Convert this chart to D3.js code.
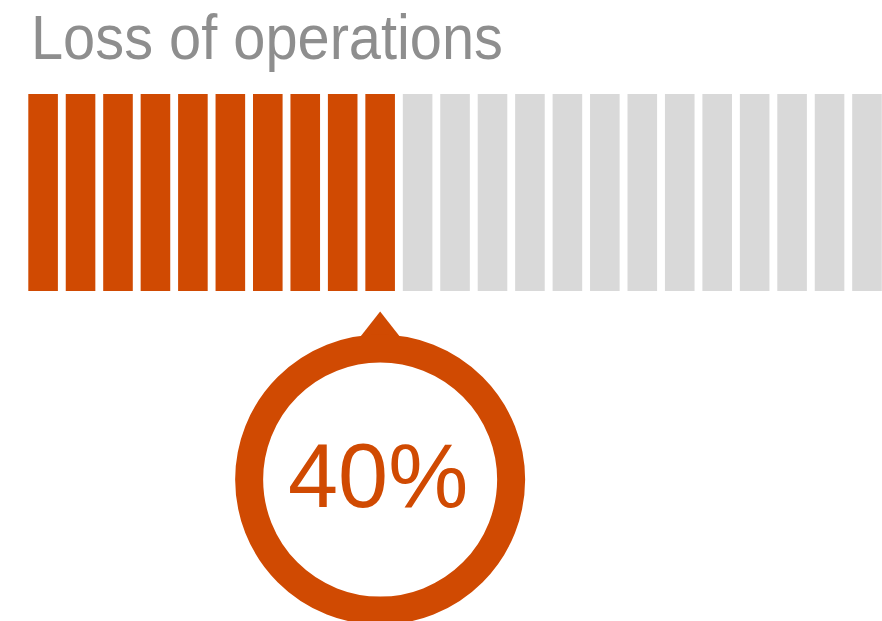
<!DOCTYPE html>
<html>
<head>
    <meta charset="utf-8">
    <title>Loss of operations</title>
    <script src="https://d3js.org/d3.v7.min.js"></script>
    <style>
        html, body { margin: 0; padding: 0; background: #fff; overflow: hidden; }
        svg { display: block; }
    </style>
</head>
<body>
<svg id="chart" width="882" height="621"></svg>

<script>
    // data
    var titles = ["Loss of operations"];
    var segments = [1, 2, 3, 4, 5, 6, 7, 8, 9, 10, 11, 12, 13, 14, 15, 16, 17, 18, 19, 20, 21, 22, 23, 24, 25];
    var lossValues = [40];

    var orange = "#d04a02";
    var grey = "#d9d9d9";

    var svg = d3.select("#chart");

    var filled = Math.round(lossValues[0] / 100 * segments.length);

    var x = d3.scaleBand()
        .domain(segments)
        .range([28.3, 28.3 + 37.45 * (segments.length - 0.21)])
        .paddingInner(0.21)
        .paddingOuter(0);

    var y = d3.scaleLinear().domain([0, 1]).range([291, 94]);

    svg.append("text")
        .attr("x", 31)
        .attr("y", 59)
        .attr("textLength", 472)
        .attr("lengthAdjust", "spacingAndGlyphs")
        .style("font-family", "'Liberation Sans', Arial, sans-serif")
        .style("font-size", "63px")
        .style("fill", "#8e8e8e")
        .text(titles[0]);

    svg.append("g")
        .selectAll("rect")
        .data(segments)
        .enter().append("rect")
        .attr("x", function(d) { return x(d); })
        .attr("y", y(1))
        .attr("width", x.bandwidth())
        .attr("height", y(0) - y(1))
        .style("fill", function(d, i) { return i < filled ? orange : grey; });

    // marker under the last filled segment
    var cx = x(segments[filled - 1]) + x.bandwidth() / 2;
    var cy = 479.6;
    var r = 131;

    var g = svg.append("g");

    g.append("path")
        .attr("d", "M" + (cx - 20) + "," + 337 + "L" + cx + "," + 311.5 + "L" + (cx + 20) + "," + 337 + "Z")
        .style("fill", orange);

    g.append("circle")
        .attr("cx", cx)
        .attr("cy", cy)
        .attr("r", r)
        .style("fill", "#fff")
        .style("stroke", orange)
        .style("stroke-width", 28);

    g.append("text")
        .attr("x", cx - 2)
        .attr("y", 507)
        .attr("text-anchor", "middle")
        .style("font-family", "'Liberation Sans', Arial, sans-serif")
        .style("font-size", "90px")
        .style("fill", orange)
        .text(lossValues[0] + "%");
</script>
</body>
</html>
